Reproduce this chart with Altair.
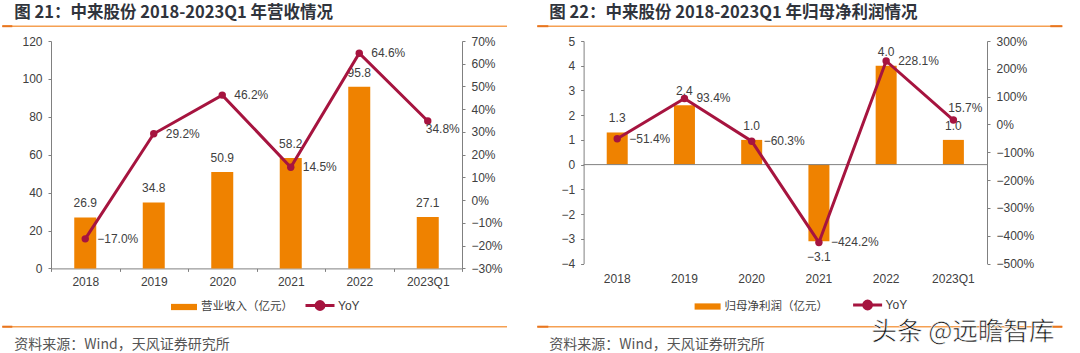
import altair as alt
import pandas as pd

CATS = ["2018", "2019", "2020", "2021", "2022", "2023Q1"]
REVENUE = [26.9, 34.8, 50.9, 58.2, 95.8, 27.1]
REVENUE_YOY = [-17.0, 29.2, 46.2, 14.5, 64.6, 34.8]
PROFIT = [1.3, 2.4, 1.0, -3.1, 4.0, 1.0]
PROFIT_YOY = [-51.4, 93.4, -60.3, -424.2, 228.1, 15.7]

L_TICKS_LEFT = [0, 20, 40, 60, 80, 100, 120]
L_TICKS_RIGHT = [-30, -20, -10, 0, 10, 20, 30, 40, 50, 60, 70]
R_TICKS_LEFT = [-4, -3, -2, -1, 0, 1, 2, 3, 4, 5]
R_TICKS_RIGHT = [-500, -400, -300, -200, -100, 0, 100, 200, 300]

TITLE_L = "图 21：中来股份 2018-2023Q1 年营收情况"
TITLE_R = "图 22：中来股份 2018-2023Q1 年归母净利润情况"
BAR_NAME_L = "营业收入（亿元）"
BAR_NAME_R = "归母净利润（亿元）"
LINE_NAME = "YoY"
SOURCE = "资料来源：Wind，天风证券研究所"
WATERMARK = "头条 @远瞻智库"

ORANGE = "#EF8200"
RED = "#A6143F"
GRAY = "#808080"
TXT = "#404040"
SEP = "#F5A052"
SEP_DARK = "#E8751E"
NUMFONT = "Liberation Sans"
CJK = "Noto Sans CJK SC"


def one(text):
    return alt.Chart(pd.DataFrame({"t": [text]}))


def panel(width, height, bars, yoys, bar_name, ticks_l, ticks_r, title,
          legend_fill_x, legend_stroke_x, legend_y, bar_size,
          last_dx, last_dy, zero_line, sep_x1, sep_x2, accents, watermark=False):
    df = pd.DataFrame({"cat": CATS, "v": bars, "yoy": yoys,
                       "s": [bar_name] * len(CATS), "k": [LINE_NAME] * len(CATS)})
    base = alt.Chart(df).transform_calculate(
        vt="format(datum.v, '.1f')",
        yt="format(datum.yoy / 100, '.1%')",
    )
    if zero_line:
        xaxis = alt.Axis(title=None, labelAngle=0, domain=False, ticks=False,
                         labelPadding=10, labelFont=NUMFONT, labelFontSize=12,
                         labelColor=TXT)
    else:
        xaxis = alt.Axis(title=None, labelAngle=0, domainColor=GRAY, tickColor=GRAY,
                         tickSize=3, tickBand="extent", labelPadding=5,
                         labelFont=NUMFONT, labelFontSize=12, labelColor=TXT)
    x = alt.X("cat:N", sort=CATS, axis=xaxis,
              scale=alt.Scale(paddingInner=0, paddingOuter=0))

    yl_scale = alt.Scale(domain=[ticks_l[0], ticks_l[-1]], nice=False, zero=False)
    yl_axis = alt.Axis(values=ticks_l, format="d", title=None, grid=False,
                       domainColor=GRAY, tickColor=GRAY, tickSize=3, labelPadding=6,
                       labelFont=NUMFONT, labelFontSize=12, labelColor=TXT)
    yr_scale = alt.Scale(domain=[ticks_r[0], ticks_r[-1]], nice=False, zero=False)
    yr_axis = alt.Axis(values=ticks_r, orient="right", title=None, grid=False,
                       labelExpr="format(datum.value / 100, '.0%')",
                       domainColor=GRAY, tickColor=GRAY, tickSize=3, labelPadding=6,
                       labelFont=NUMFONT, labelFontSize=12, labelColor=TXT)
    yl = alt.Y("v:Q", scale=yl_scale, axis=yl_axis)
    yr = alt.Y("yoy:Q", scale=yr_scale, axis=yr_axis)

    bar = base.mark_bar(size=bar_size).encode(
        x=x,
        y=yl,
        fill=alt.Fill("s:N", scale=alt.Scale(domain=[bar_name], range=[ORANGE]),
                      legend=alt.Legend(title=None, orient="none",
                                        legendX=legend_fill_x, legendY=legend_y,
                                        symbolType="M-1,-0.24H1V0.24H-1Z",
                                        symbolSize=676, symbolStrokeWidth=0,
                                        labelFont=NUMFONT + ", " + CJK,
                                        labelFontSize=11.5, labelColor=TXT)),
    )
    lab_pos = base.transform_filter(alt.datum.v >= 0).mark_text(
        dy=-14, baseline="middle", font=NUMFONT, fontSize=12, color=TXT
    ).encode(x=x, y=yl, text="vt:N")
    lab_neg = base.transform_filter(alt.datum.v < 0).mark_text(
        dy=16, baseline="middle", font=NUMFONT, fontSize=12, color=TXT
    ).encode(x=x, y=yl, text="vt:N")
    left_parts = [bar, lab_pos, lab_neg]
    if zero_line:
        zl = one("z").mark_rule(color=GRAY, strokeWidth=1).encode(
            y=alt.YDatum(0, scale=yl_scale, axis=yl_axis), x=alt.value(0), x2=alt.value(width))
        left_parts.insert(1, zl)
    left = alt.layer(*left_parts)

    line = base.mark_line(strokeWidth=3).encode(
        x=x,
        y=yr,
        stroke=alt.Stroke("k:N", scale=alt.Scale(domain=[LINE_NAME], range=[RED]),
                          legend=alt.Legend(title=None, orient="none",
                                            legendX=legend_stroke_x, legendY=legend_y - 4.5,
                                            symbolType="M-1,0H1M0.27,0A0.27,0.27,0,1,1,-0.27,0A0.27,0.27,0,1,1,0.27,0Z",
                                            symbolSize=841, symbolStrokeWidth=3,
                                            symbolFillColor=RED, labelOffset=2,
                                            labelFont=NUMFONT, labelFontSize=12,
                                            labelColor=TXT)),
    )
    pts = base.mark_point(filled=True, size=55, color=RED, opacity=1).encode(
        x=x, y=yr)
    ylab = base.transform_filter(alt.datum.cat != CATS[-1]).mark_text(
        align="left", dx=12, baseline="middle", font=NUMFONT, fontSize=12, color=TXT
    ).encode(x=x, y=yr, text="yt:N")
    ylab_last = base.transform_filter(alt.datum.cat == CATS[-1]).mark_text(
        align="center", dx=last_dx, dy=last_dy, baseline="middle", font=NUMFONT,
        fontSize=12, color=TXT
    ).encode(x=x, y=yr, text="yt:N")
    right = alt.layer(line, pts, ylab, ylab_last)

    deco = [
        one(title).mark_text(align="left", baseline="middle", font=CJK, fontSize=16.5,
                             fontWeight="bold", color="#30343C").encode(
            x=alt.value(sep_x1 + 12), y=alt.value(-28.3), text="t:N"),
        one(SOURCE).mark_text(align="left", baseline="middle", font=CJK, fontSize=14,
                              color="#555555").encode(
            x=alt.value(sep_x1 + 12), y=alt.value(304), text="t:N"),
        one("a").mark_rule(color=SEP, strokeWidth=1.5).encode(
            x=alt.value(sep_x1), x2=alt.value(sep_x2), y=alt.value(-14.8)),
        one("b").mark_rule(color=SEP, strokeWidth=1.5).encode(
            x=alt.value(sep_x1), x2=alt.value(sep_x2), y=alt.value(285.7)),
    ]
    for ax1, ax2 in accents:
        for yy in (-14.8, 285.7):
            deco.append(one("c").mark_rule(color=SEP_DARK, strokeWidth=2).encode(
                x=alt.value(ax1), x2=alt.value(ax2), y=alt.value(yy)))
    if watermark:
        deco.append(one(WATERMARK).mark_text(align="left", baseline="middle", font=CJK,
                                             fontSize=25.5, color="#111111",
                                             stroke="white", strokeWidth=0.6).encode(
            x=alt.value(288), y=alt.value(291), text="t:N"))
    else:
        deco.insert(0, one("anchor").mark_rule(color="white", strokeWidth=1).encode(
            x=alt.value(-50.2), x2=alt.value(-49.2), y=alt.value(-39.8)))

    return alt.layer(left, right, *deco).resolve_scale(y="independent").properties(
        width=width, height=height)


left_panel = panel(411, 227.4, REVENUE, REVENUE_YOY, BAR_NAME_L, L_TICKS_LEFT, L_TICKS_RIGHT,
                   TITLE_L, 120, 253, 253, 22, 15, 8, False, -48.7, 456,
                   [(-48.7, -38.7)])
right_panel = panel(403.4, 222.5, PROFIT, PROFIT_YOY, BAR_NAME_R, R_TICKS_LEFT, R_TICKS_RIGHT,
                    TITLE_R, 111, 268, 252.5, 21, 12, -12, True, -46.3, 478.7,
                    [(-46.3, -35.3), (466.7, 478.7)], watermark=True)

chart = alt.hconcat(left_panel, right_panel, spacing=121.6, bounds="flush").resolve_scale(
    x="independent", y="independent", fill="independent", stroke="independent"
).properties(padding=0, background="white").configure_view(stroke=None)

chart.save("out.html", embed_options={"renderer": "svg", "actions": False})
